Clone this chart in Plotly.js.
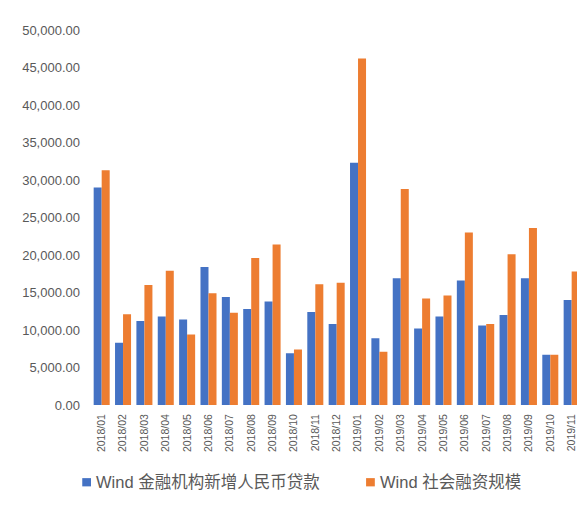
<!DOCTYPE html>
<html>
<head>
<meta charset="utf-8">
<script src="https://cdn.plot.ly/plotly-3.0.1.min.js"></script>
<style>
  html, body { margin: 0; padding: 0; background: #ffffff; overflow: hidden; }
  #chart { width: 577px; height: 516px; }
</style>
</head>
<body>
<div id="chart"></div>
<script>
// Monthly figures, 100 million CNY
const months = [
  "2018/01", "2018/02", "2018/03", "2018/04", "2018/05", "2018/06",
  "2018/07", "2018/08", "2018/09", "2018/10", "2018/11", "2018/12",
  "2019/01", "2019/02", "2019/03", "2019/04", "2019/05", "2019/06",
  "2019/07", "2019/08", "2019/09", "2019/10", "2019/11"
];
const newLoans = [
  29000, 8300, 11200, 11800, 11400, 18400,
  14400, 12800, 13800, 6900, 12400, 10800,
  32300, 8900, 16900, 10200, 11800, 16600,
  10600, 12000, 16900, 6700, 14000
];
const socialFinancing = [
  31300, 12100, 16000, 17900, 9400, 14900,
  12300, 19600, 21400, 7400, 16100, 16300,
  46200, 7100, 28800, 14200, 14600, 23000,
  10800, 20100, 23600, 6700, 17800
];
const seriesNames = ["Wind 金融机构新增人民币贷款", "Wind 社会融资规模"];
const seriesColors = ["#4472C4", "#ED7D31"];

const fontFamily = "'Liberation Sans', 'Noto Sans CJK SC', sans-serif";
const textColor = "#595959";

const traces = [
  {
    type: "bar",
    name: seriesNames[0],
    x: months,
    y: newLoans,
    marker: { color: seriesColors[0] },
    hoverinfo: "x+y"
  },
  {
    type: "bar",
    name: seriesNames[1],
    x: months,
    y: socialFinancing,
    marker: { color: seriesColors[1] },
    hoverinfo: "x+y"
  }
];

// Key below the plot: a small coloured square followed by the series name
const legendX = [-0.018, 0.566];
const legendY = -0.206;
const swatchW = 0.018;
const swatchH = 0.022;

const shapes = seriesNames.map((_, i) => ({
  type: "rect",
  xref: "paper",
  yref: "paper",
  x0: legendX[i],
  x1: legendX[i] + swatchW,
  y0: legendY - swatchH / 2,
  y1: legendY + swatchH / 2,
  fillcolor: seriesColors[i],
  line: { width: 0 }
}));

const annotations = seriesNames.map((name, i) => ({
  xref: "paper",
  yref: "paper",
  x: legendX[i] + swatchW + 0.006,
  y: legendY,
  xanchor: "left",
  yanchor: "middle",
  showarrow: false,
  text: name,
  font: { size: 16.5, color: textColor, family: fontFamily }
}));

const layout = {
  width: 577,
  height: 516,
  margin: { l: 91, r: 0, t: 30, b: 111 },
  paper_bgcolor: "#ffffff",
  plot_bgcolor: "#ffffff",
  barmode: "group",
  bargap: 0.25,
  bargroupgap: 0,
  font: { family: fontFamily, color: textColor },
  showlegend: false,
  xaxis: {
    type: "category",
    range: [-0.5, 22.25],
    tickangle: -90,
    tickfont: { size: 10.5, color: textColor },
    showgrid: false,
    showline: false,
    ticks: "",
    zeroline: false,
    ticklabelstandoff: 6
  },
  yaxis: {
    range: [0, 50000],
    tickvals: [0, 5000, 10000, 15000, 20000, 25000, 30000, 35000, 40000, 45000, 50000],
    tickformat: ",.2f",
    tickfont: { size: 13, color: textColor },
    showgrid: false,
    showline: false,
    zeroline: false,
    ticks: "",
    ticklabelstandoff: 10
  },
  shapes: shapes,
  annotations: annotations
};

Plotly.newPlot("chart", traces, layout, { displayModeBar: false, staticPlot: true });
</script>
</body>
</html>
